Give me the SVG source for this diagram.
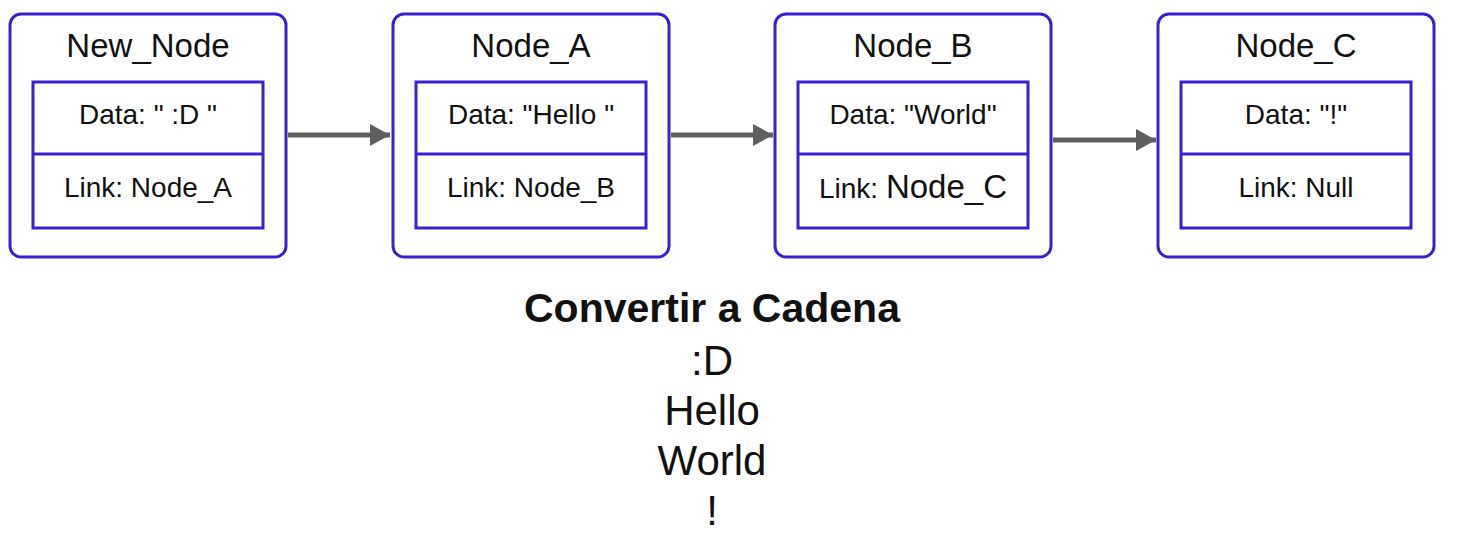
<svg xmlns="http://www.w3.org/2000/svg" width="1457" height="537" viewBox="0 0 1457 537">
<style>
.outer{fill:#fff;stroke:#3c1fd2;stroke-width:3}
.inner{fill:#fff;stroke:#3c1fd2;stroke-width:3}
.t{font-family:"Liberation Sans",Arial,sans-serif;fill:#111;text-anchor:middle}
.title{font-size:33px}
.f{font-size:28px}
.big{font-size:42px}
.conn{stroke:#5f5f5f;stroke-width:5;fill:none}
</style>
<defs>
<marker id="ah" markerWidth="20" markerHeight="22" refX="20" refY="11" orient="auto" markerUnits="userSpaceOnUse">
<path d="M0,0 L20,11 L0,22 Z" fill="#5f5f5f"/>
</marker>
</defs>
<rect width="1457" height="537" fill="#fff"/>
<g id="new_node">
<rect class="outer" x="10" y="14" width="276" height="243" rx="11"/>
<rect class="inner" x="33" y="82" width="230" height="146"/>
<line x1="33" y1="154" x2="263" y2="154" stroke="#3c1fd2" stroke-width="3"/>
<text class="t title" x="148" y="57">New_Node</text>
<text class="t f" x="148" y="124">Data: " :D "</text>
<text class="t f" x="148" y="197">Link: Node_A</text>
</g>
<g id="node_a">
<rect class="outer" x="393" y="14" width="276" height="243" rx="11"/>
<rect class="inner" x="416" y="82" width="230" height="146"/>
<line x1="416" y1="154" x2="646" y2="154" stroke="#3c1fd2" stroke-width="3"/>
<text class="t title" x="531" y="57">Node_A</text>
<text class="t f" x="531" y="124">Data: "Hello "</text>
<text class="t f" x="531" y="197">Link: Node_B</text>
</g>
<g id="node_b">
<rect class="outer" x="775" y="14" width="276" height="243" rx="11"/>
<rect class="inner" x="798" y="82" width="230" height="146"/>
<line x1="798" y1="154" x2="1028" y2="154" stroke="#3c1fd2" stroke-width="3"/>
<text class="t title" x="913" y="57">Node_B</text>
<text class="t f" x="913" y="124">Data: "World"</text>
<text class="t f" x="913" y="198">Link: <tspan font-size="33px">Node_C</tspan></text>
</g>
<g id="node_c">
<rect class="outer" x="1158" y="14" width="276" height="243" rx="11"/>
<rect class="inner" x="1181" y="82" width="230" height="146"/>
<line x1="1181" y1="154" x2="1411" y2="154" stroke="#3c1fd2" stroke-width="3"/>
<text class="t title" x="1296" y="57">Node_C</text>
<text class="t f" x="1296" y="124">Data: "!"</text>
<text class="t f" x="1296" y="197">Link: Null</text>
</g>
<g id="connectors">
<line class="conn" x1="288" y1="135" x2="390" y2="135" marker-end="url(#ah)"/>
<line class="conn" x1="671" y1="135" x2="773" y2="135" marker-end="url(#ah)"/>
<line class="conn" x1="1053" y1="140" x2="1156" y2="140" marker-end="url(#ah)"/>
</g>
<g id="output">
<text class="t" x="712" y="322" font-size="41" font-weight="bold">Convertir a Cadena</text>
<text class="t big" x="712" y="375">:D</text>
<text class="t big" x="712" y="425">Hello</text>
<text class="t big" x="712" y="475">World</text>
<text class="t big" x="712" y="525">!</text>
</g>
</svg>
